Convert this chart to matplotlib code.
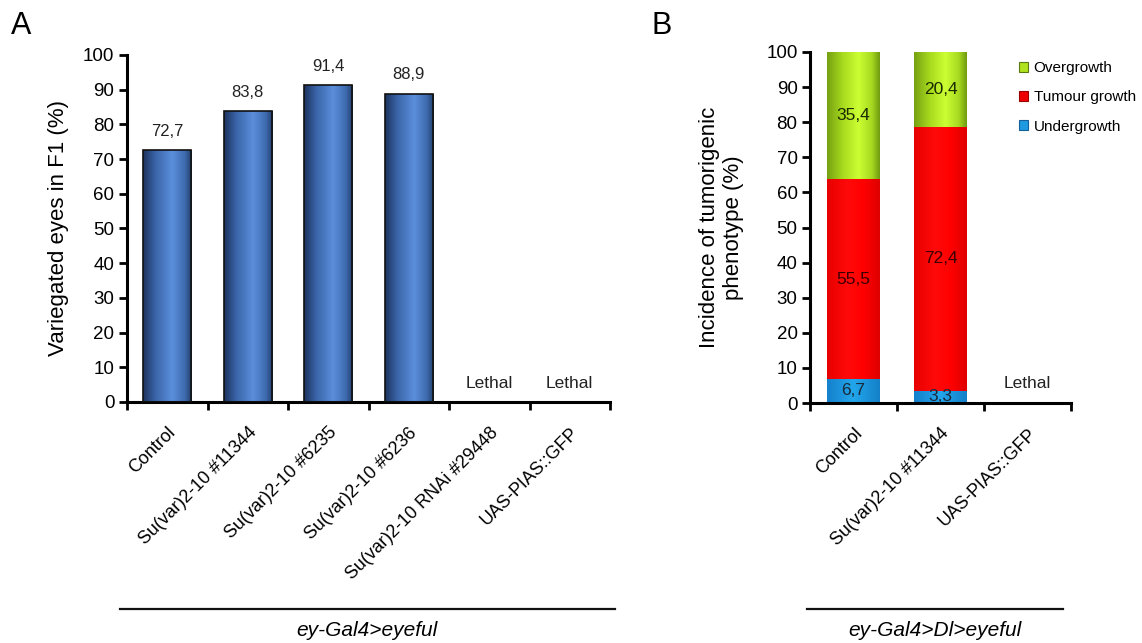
import numpy as np
import matplotlib
matplotlib.use("Agg")
import matplotlib.pyplot as plt
from matplotlib.colors import LinearSegmentedColormap
from matplotlib.lines import Line2D
from matplotlib.patches import Patch

plt.rcParams['font.family'] = ['Liberation Sans', 'DejaVu Sans']

# Panel A: variegated eyes
a_categories = ["Control", "Su(var)2-10 #11344", "Su(var)2-10 #6235",
                "Su(var)2-10 #6236", "Su(var)2-10 RNAi #29448", "UAS-PIAS::GFP"]
a_values = [72.7, 83.8, 91.4, 88.9, None, None]
a_labels = ["72,7", "83,8", "91,4", "88,9", "Lethal", "Lethal"]

# Panel B: tumorigenic phenotype
b_categories = ["Control", "Su(var)2-10 #11344", "UAS-PIAS::GFP"]
b_under = [6.7, 3.3, None]
b_tumour = [55.5, 72.4, None]
b_over = [35.4, 20.4, None]
b_under_lbl = ["6,7", "3,3"]
b_tumour_lbl = ["55,5", "72,4"]
b_over_lbl = ["35,4", "20,4"]
b_lethal = "Lethal"

W, H = 1142, 643
fig = plt.figure(figsize=(W / 100, H / 100), dpi=100)


def gradient_fill(ax, patch, stops, zorder=2):
    """Overlay a horizontal colour gradient clipped to a bar patch."""
    x0, y0 = patch.get_x(), patch.get_y()
    w, h = patch.get_width(), patch.get_height()
    cmap = LinearSegmentedColormap.from_list("g", stops)
    grad = np.linspace(0, 1, 256).reshape(1, -1)
    im = ax.imshow(grad, cmap=cmap, extent=(x0, x0 + w, y0, y0 + h),
                   aspect='auto', zorder=zorder, interpolation='bicubic')
    im.set_clip_path(patch)


def style_axes(ax, n):
    for s in ("top", "right"):
        ax.spines[s].set_visible(False)
    for s in ("left", "bottom"):
        ax.spines[s].set_linewidth(2.2)
    ax.set_ylim(0, 100)
    ax.set_xlim(-0.5, n - 0.5)
    ax.set_yticks(np.arange(0, 101, 10))
    ax.tick_params(axis='y', direction='out', length=6, width=2.0,
                   labelsize=13.5, pad=3)
    ax.set_xticks(np.arange(n))
    ax.set_xticks(np.arange(n + 1) - 0.5, minor=True)
    ax.tick_params(axis='x', which='major', length=0, pad=16, labelsize=13)
    ax.tick_params(axis='x', which='minor', direction='out', length=6, width=2.0)
    for lab in ax.get_xticklabels():
        lab.set_rotation(45)
        lab.set_ha('right')
        lab.set_rotation_mode('anchor')


# ---------------- Panel A ----------------
axA = fig.add_axes([127 / W, 1 - 402 / H, 483 / W, 347 / H])
xa = np.arange(len(a_categories))
heights = [v if v is not None else 0 for v in a_values]
bars = axA.bar(xa, heights, width=0.6, color='#4a7cc4', edgecolor='none', zorder=2)
blue_stops = [(0.0, '#1c335c'), (0.25, '#3a64a8'), (0.6, '#5b8fdc'),
              (0.85, '#3f6cb0'), (1.0, '#223e6c')]
for b, v in zip(bars, a_values):
    if v is None:
        b.set_visible(False)
        continue
    gradient_fill(axA, b, blue_stops)
    axA.add_patch(plt.Rectangle((b.get_x(), 0), b.get_width(), v, fill=False,
                                edgecolor='#111111', lw=1.2, zorder=3))
for x, v, t in zip(xa, a_values, a_labels):
    if v is None:
        axA.text(x, 3.3, t, ha='center', va='bottom', fontsize=12.5, color='#222222')
    else:
        axA.annotate(t, (x, v), xytext=(0, 8), textcoords='offset points',
                     ha='center', va='bottom', fontsize=12, color='#222222')
axA.set_xticklabels(a_categories)
style_axes(axA, len(a_categories))
axA.set_ylabel("Variegated eyes in F1 (%)", fontsize=16, labelpad=10)

# ---------------- Panel B ----------------
axB = fig.add_axes([810 / W, 1 - 403 / H, 261 / W, 351 / H])
xb = np.arange(len(b_categories))
under, tumour, over = [], [], []
for u, t, o in zip(b_under, b_tumour, b_over):
    if u is None:
        under.append(0); tumour.append(0); over.append(0)
        continue
    tot = u + t + o
    under.append(u / tot * 100)
    tumour.append(t / tot * 100)
    over.append(o / tot * 100)
under, tumour, over = map(np.array, (under, tumour, over))

c_under, c_tumour, c_over = '#1e9be0', '#ff0000', '#aadd22'
bu = axB.bar(xb, under, width=0.6, color=c_under, edgecolor='none', zorder=2)
bt = axB.bar(xb, tumour, width=0.6, bottom=under, color=c_tumour, edgecolor='none', zorder=2)
bo = axB.bar(xb, over, width=0.6, bottom=under + tumour, color=c_over, edgecolor='none', zorder=2)
green_stops = [(0.0, '#76a012'), (0.3, '#a8da1e'), (0.6, '#ccff33'),
               (0.85, '#a6d820'), (1.0, '#6f9a10')]
red_stops = [(0.0, '#e80000'), (0.4, '#ff0a0a'), (0.7, '#ff0000'), (1.0, '#de0000')]
blue2_stops = [(0.0, '#1580cc'), (0.5, '#22a6ec'), (1.0, '#1480c8')]
for grp, stops in ((bu, blue2_stops), (bt, red_stops), (bo, green_stops)):
    for p in grp:
        if p.get_height() > 0:
            gradient_fill(axB, p, stops)
        else:
            p.set_visible(False)

for i in range(2):
    axB.text(xb[i], under[i] / 2, b_under_lbl[i], ha='center', va='center',
             fontsize=12.5, color='#1a2a3a', zorder=4)
    axB.text(xb[i], under[i] + tumour[i] / 2, b_tumour_lbl[i], ha='center',
             va='center', fontsize=12.5, color='#3a0000', zorder=4)
    axB.text(xb[i], under[i] + tumour[i] + over[i] / 2, b_over_lbl[i],
             ha='center', va='center', fontsize=12.5, color='#1a2a00', zorder=4)
axB.text(xb[2], 3.3, b_lethal, ha='center', va='bottom', fontsize=12.5, color='#222222')
axB.set_xticklabels(b_categories)
style_axes(axB, len(b_categories))
axB.set_ylabel("Incidence of tumorigenic\nphenotype (%)", fontsize=16,
               labelpad=16, linespacing=1.2)

handles = [Patch(facecolor='#b0e21e', edgecolor='#5a7a10', lw=0.8),
           Patch(facecolor='#ee0000', edgecolor='#990000', lw=0.8),
           Patch(facecolor='#1e9be0', edgecolor='#155f99', lw=0.8)]
fig.legend(handles, ["Overgrowth", "Tumour growth", "Undergrowth"],
           loc='upper left', bbox_to_anchor=(1013 / W, 1 - 55 / H),
           frameon=False, fontsize=11, handlelength=0.6, handleheight=0.6,
           handletextpad=0.35, labelspacing=1.0, borderaxespad=0)

# Genotype brackets under each panel
fig.add_artist(Line2D([120 / W, 615 / W], [1 - 609 / H] * 2, color='#111111', lw=1.6))
fig.add_artist(Line2D([807 / W, 1063 / W], [1 - 609 / H] * 2, color='#111111', lw=1.6))
fig.text(367 / W, 1 - 630 / H, "ey-Gal4>eyeful", style='italic', fontsize=15,
         ha='center', va='center')
fig.text(935 / W, 1 - 630 / H, "ey-Gal4>Dl>eyeful", style='italic', fontsize=15,
         ha='center', va='center')

fig.text(11 / W, 1 - 26 / H, "A", fontsize=22, ha='left', va='center')
fig.text(652 / W, 1 - 26 / H, "B", fontsize=22, ha='left', va='center')

fig.savefig("out.png", dpi=100, facecolor='white')
